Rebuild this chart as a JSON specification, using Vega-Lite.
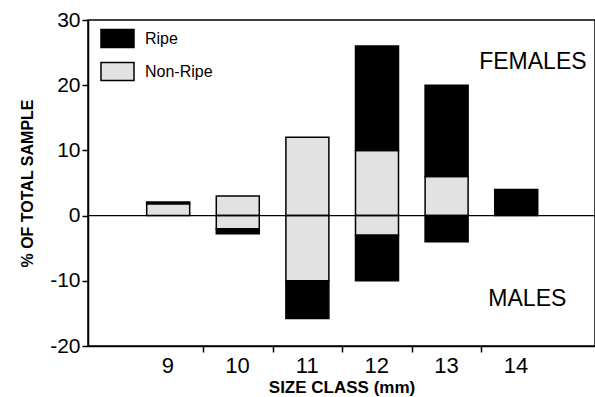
{
  "$schema": "https://vega.github.io/schema/vega-lite/v6.json",
  "width": 507,
  "height": 326,
  "autosize": "none",
  "padding": {"left": 88, "top": 20, "right": 0, "bottom": 51},
  "background": "white",
  "config": {
    "view": {"stroke": "black", "strokeWidth": 1.5},
    "font": "Liberation Sans",
    "axis": {"domainColor": "black", "domainWidth": 1.5, "tickColor": "black", "tickWidth": 1.5, "labelColor": "black", "titleColor": "black", "grid": false, "labelFont": "Liberation Sans", "titleFont": "Liberation Sans"}
  },
  "layer": [
    {
      "data": {"values": [
        {"size": 9, "sex": "F", "type": "Non-Ripe", "ord": 1, "pct": 1.8},
        {"size": 9, "sex": "F", "type": "Ripe", "ord": 2, "pct": 0.3},
        {"size": 10, "sex": "F", "type": "Non-Ripe", "ord": 1, "pct": 3.0},
        {"size": 10, "sex": "M", "type": "Non-Ripe", "ord": 1, "pct": -2.0},
        {"size": 10, "sex": "M", "type": "Ripe", "ord": 2, "pct": -0.8},
        {"size": 11, "sex": "F", "type": "Non-Ripe", "ord": 1, "pct": 12.0},
        {"size": 11, "sex": "M", "type": "Non-Ripe", "ord": 1, "pct": -10.0},
        {"size": 11, "sex": "M", "type": "Ripe", "ord": 2, "pct": -5.8},
        {"size": 12, "sex": "F", "type": "Non-Ripe", "ord": 1, "pct": 10.0},
        {"size": 12, "sex": "F", "type": "Ripe", "ord": 2, "pct": 16.0},
        {"size": 12, "sex": "M", "type": "Non-Ripe", "ord": 1, "pct": -3.0},
        {"size": 12, "sex": "M", "type": "Ripe", "ord": 2, "pct": -7.0},
        {"size": 13, "sex": "F", "type": "Non-Ripe", "ord": 1, "pct": 6.0},
        {"size": 13, "sex": "F", "type": "Ripe", "ord": 2, "pct": 14.0},
        {"size": 13, "sex": "M", "type": "Ripe", "ord": 2, "pct": -4.0},
        {"size": 14, "sex": "F", "type": "Ripe", "ord": 2, "pct": 4.0}
      ]},
      "mark": {"type": "bar", "size": 43, "stroke": "black", "strokeWidth": 1.5},
      "encoding": {
        "x": {"field": "size", "type": "quantitative",
          "scale": {"domain": [7.92, 15.06], "nice": false, "zero": false},
          "axis": {"values": [9.5, 10.5, 11.5, 12.5, 13.5, 14.5], "labelExpr": "toString(datum.value - 0.5)", "labelOffset": -35.5, "labelFontSize": 22, "tickSize": 6, "tickColor": {"condition": {"test": "datum.value > 14", "value": "transparent"}, "value": "black"}, "labelPadding": 3, "labelFlush": false, "labelOverlap": false, "labelBound": false, "title": "SIZE CLASS (mm)", "titleFontSize": 17, "titleFontWeight": "bold", "titlePadding": 3}},
        "y": {"field": "pct", "type": "quantitative", "stack": "zero",
          "scale": {"domain": [-20, 30], "nice": false},
          "axis": {"values": [-20, -15, -10, -5, 0, 5, 10, 15, 20, 25, 30], "labelExpr": "datum.value % 10 === 0 ? toString(datum.value) : ''", "labelFontSize": 21, "tickSize": 6, "labelPadding": 2, "labelOverlap": false, "labelFlush": false, "title": "% OF TOTAL SAMPLE", "titleFontSize": 16, "titleFontWeight": "bold", "titlePadding": 14}},
        "color": {"field": "type", "type": "nominal",
          "scale": {"domain": ["Ripe", "Non-Ripe"], "range": ["black", "#e2e2e2"]},
          "legend": {"orient": "none", "legendX": 12, "legendY": 1, "title": null, "symbolType": "M-1,-0.55H1V0.55H-1Z", "symbolSize": 1089, "symbolStrokeColor": "black", "symbolStrokeWidth": 1.5, "labelFontSize": 16, "labelOffset": 10, "labelColor": "black", "rowPadding": 3, "padding": 0, "labelFont": "Liberation Sans"}},
        "order": {"field": "ord", "type": "quantitative"},
        "detail": {"field": "sex"}
      }
    },
    {
      "data": {"values": [{}]},
      "mark": {"type": "rule", "color": "black", "strokeWidth": 1.2},
      "encoding": {"y": {"datum": 0}}
    },
    {
      "data": {"values": [{"x": 14.24, "y": 23.5, "label": "FEMALES"}, {"x": 14.16, "y": -12.8, "label": "MALES"}]},
      "mark": {"type": "text", "fontSize": 23, "font": "Liberation Sans", "color": "black", "baseline": "middle"},
      "encoding": {
        "x": {"field": "x", "type": "quantitative"},
        "y": {"field": "y", "type": "quantitative"},
        "text": {"field": "label"}
      }
    }
  ]
}
